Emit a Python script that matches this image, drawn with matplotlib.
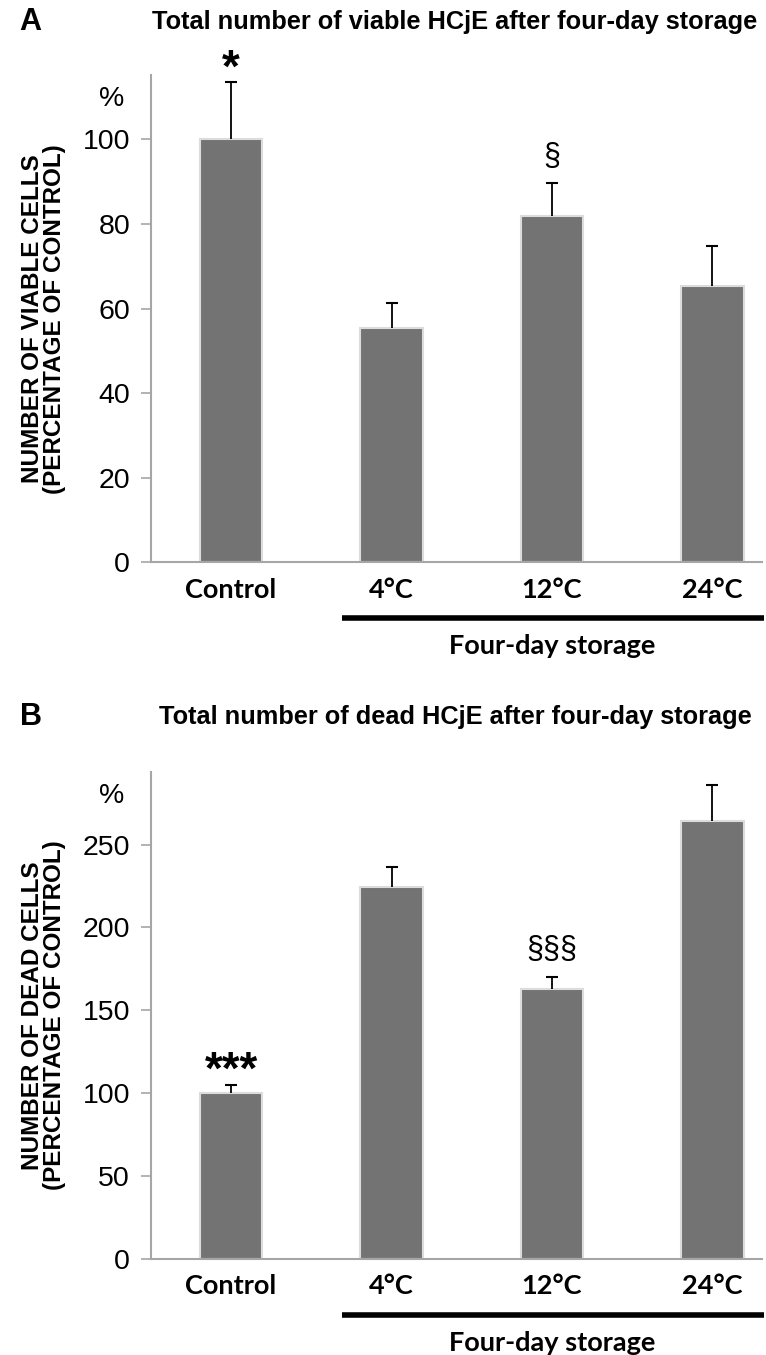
import numpy as np
from matplotlib import pyplot as plt

# データ
categories = ['Control', '4°C', '12°C', '24°C']
viable = [100, 55.4, 81.9, 65.4]
viable_err = [13.6, 6.0, 7.7, 9.4]
dead = [100, 224.4, 162.8, 264.0]
dead_err = [5.2, 11.8, 7.6, 21.7]
viable_marks = ['*', '', '§', '']
dead_marks = ['***', '', '§§§', '']

viable_ticks = [0, 20, 40, 60, 80, 100]
dead_ticks = [0, 50, 100, 150, 200, 250]

bar_color = '#737373'
axis_color = '#a6a6a6'
sans = ['Liberation Sans', 'DejaVu Sans']
label_font = ['Lato', 'DejaVu Sans']

fig = plt.figure(figsize=(7.66, 13.55), dpi=100)


def panel(rect, values, errs, marks, ticks, ymax, letter, title, ylabel, title_y):
    ax = fig.add_axes(rect)
    x = np.arange(len(categories))
    values = np.array(values)
    errs = np.array(errs)
    ax.bar(x, values, width=0.39, color=bar_color, edgecolor='#dcdcdc', linewidth=1.5, zorder=2)
    # 上側だけのエラーバー
    ax.errorbar(x, values, yerr=[np.zeros(len(values)), errs], fmt='none',
                ecolor='black', elinewidth=1.3, capsize=0, zorder=3)
    ax.plot(x, values + errs, ls='none', marker='_', markersize=9, mew=1.5,
            color='black', zorder=3, clip_on=False)

    ax.set_xlim(-0.5, 3.31)
    ax.set_ylim(0, ymax)
    ax.set_yticks(ticks)
    ax.set_yticklabels([str(t) for t in ticks], fontfamily=sans, fontsize=20.5)
    ax.set_xticks(x)
    ax.set_xticklabels(categories, fontfamily=label_font, fontweight='bold', fontsize=19.5)

    for s in ['top', 'right']:
        ax.spines[s].set_visible(False)
    for s in ['left', 'bottom']:
        ax.spines[s].set_color(axis_color)
        ax.spines[s].set_linewidth(1.5)
    ax.tick_params(axis='y', direction='out', length=7, width=1.2, color=axis_color, pad=8)
    ax.tick_params(axis='x', length=0, pad=11)

    # 有意差マーク
    for xi, v, e, m in zip(x, values, errs, marks):
        if not m:
            continue
        if '*' in m:
            ax.annotate(m, (xi, v + e), xytext=(0, 9), textcoords='offset points',
                        ha='center', va='center', fontsize=33, fontweight='bold',
                        fontfamily=sans, annotation_clip=False)
        else:
            ax.annotate(m, (xi, v + e), xytext=(0, 19), textcoords='offset points',
                        ha='center', va='center', fontsize=22, fontfamily=sans,
                        annotation_clip=False)

    # 縦軸ラベル
    ax.text(-0.064, 0.95, '%', transform=ax.transAxes, ha='center', va='center',
            fontsize=20.5, fontfamily=sans)
    ax.text(-0.176, 0.5, ylabel, transform=ax.transAxes, rotation=90, ha='center',
            va='center', fontsize=17.5, fontweight='bold', fontfamily=sans,
            multialignment='center', linespacing=0.95)

    # 保存期間の線
    ax.plot([0.69, 3.32], [-0.115, -0.115], transform=ax.get_xaxis_transform(),
            color='black', linewidth=4, clip_on=False, solid_capstyle='butt')
    ax.text(2.0, -0.172, 'Four-day storage', transform=ax.get_xaxis_transform(),
            ha='center', va='center', fontsize=19.5, fontweight='bold', fontfamily=label_font)

    fig.text(0.04, title_y, letter, ha='center', va='center', fontsize=22,
             fontweight='bold', fontfamily=sans)
    fig.text(0.594, title_y, title, ha='center', va='center', fontsize=18.3,
             fontweight='bold', fontfamily=sans)
    return ax


panel([0.197, 0.585, 0.798, 0.3596], viable, viable_err, viable_marks, viable_ticks, 115.2,
      'A', 'Total number of viable HCjE after four-day storage',
      'NUMBER OF VIABLE CELLS\n(PERCENTAGE OF CONTROL)', 0.9835)
panel([0.197, 0.0709, 0.798, 0.3596], dead, dead_err, dead_marks, dead_ticks, 294,
      'B', 'Total number of dead HCjE after four-day storage',
      'NUMBER OF DEAD CELLS\n(PERCENTAGE OF CONTROL)', 0.4705)

fig.savefig('out.png', dpi=100)
plt.close()
